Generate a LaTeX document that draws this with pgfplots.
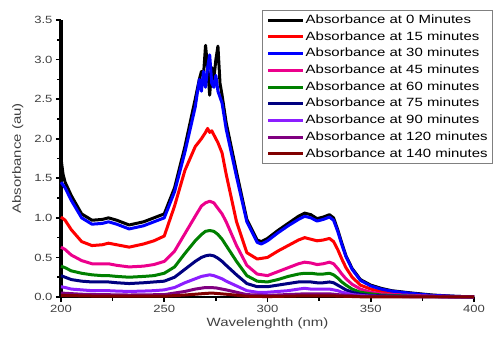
\documentclass[border=0pt]{standalone}
\usepackage{pgfplots}
\pgfplotsset{compat=1.18}
\usepackage{fontspec}
\setmainfont{Liberation Sans}[FakeStretch=1.25]
\definecolor{cNavy}{RGB}{0,0,128}
\definecolor{cGreen}{RGB}{0,128,0}
\definecolor{cViolet}{RGB}{140,30,255}
\definecolor{cPurple}{RGB}{128,0,128}
\definecolor{cMaroon}{RGB}{128,0,0}
\definecolor{tickgray}{RGB}{64,64,64}
\begin{document}
\begin{tikzpicture}
\useasboundingbox (-61bp,-42bp) rectangle (440bp,297bp);
\begin{axis}[
  at={(0,0)}, anchor=south west,
  scale only axis, width=413bp, height=277bp,
  xmin=200, xmax=400, ymin=0, ymax=3.5,
  axis lines*=left,
  axis line style={black},
  y axis line style={line width=3.2bp},
  x axis line style={line width=1.8bp},
  xtick={200,250,300,350,400},
  ytick={0,0.5,1,1.5,2,2.5,3,3.5},
  minor x tick num=1, minor y tick num=1,
  tick align=outside,
  major tick length=5bp, minor tick length=3.5bp,
  every tick/.style={black, line width=1.6bp},
  yticklabel style={/pgf/number format/.cd, fixed, fixed zerofill, precision=1},
  /pgf/number format/assume math mode=true,
  ticklabel style={font=\fontsize{10.5}{12}\selectfont, text=tickgray},
  xlabel={Wavelenghth (nm)}, ylabel={Absorbance (au)},
  label style={font=\fontsize{12}{14}\selectfont, text=tickgray},
  xlabel style={yshift=2bp},
  ylabel style={yshift=4bp},
  clip=false,
  legend style={at={(0.487,1.036)}, anchor=north west, draw=gray, line width=0.8bp,
    fill=white, font=\fontsize{12}{14}\selectfont, row sep=3.1bp,
    inner xsep=4bp, inner ysep=3bp,
    nodes={inner sep=1.2bp, text height=8.8bp, text depth=2.4bp}},
  legend cell align=left,
  legend image code/.code={\draw[#1, line width=3bp] (0bp,0bp) -- (35bp,0bp);},
  every axis plot/.append style={line width=3bp, line join=round},
]
% 0 min (black)
\addplot[black] coordinates {
(200,1.75)(201,1.55)(202,1.45)(205,1.28)(210,1.05)(215,0.97)(220,0.98)(223,1.00)(227,0.97)(233,0.91)(240,0.95)(245,1.00)(250,1.05)(255,1.38)(260,1.90)(265,2.50)(267,2.75)(268,2.85)(269,2.80)(270,3.18)(271,2.90)(272,2.55)(273,2.90)(274,2.75)(275,3.00)(276,3.17)(277,2.70)(278,2.55)(280,2.20)(285,1.58)(290,0.98)(295,0.72)(297,0.70)(300,0.74)(305,0.84)(310,0.93)(315,1.02)(318,1.06)(321,1.04)(324,0.99)(327,1.01)(330,1.04)(332,1.00)(334,0.85)(336,0.68)(338,0.52)(341,0.36)(345,0.22)(350,0.15)(355,0.11)(360,0.08)(370,0.05)(380,0.025)(390,0.01)(400,0.0)};
\addlegendentry{Absorbance at 0 Minutes}
% 15 min (red)
\addplot[red] coordinates {
(200,1.01)(202,0.97)(205,0.85)(210,0.70)(215,0.65)(220,0.66)(223,0.68)(227,0.66)(233,0.63)(240,0.67)(245,0.71)(250,0.77)(255,1.15)(260,1.60)(265,1.90)(268,2.00)(270,2.08)(271,2.13)(272,2.08)(273,2.10)(274,2.05)(276,1.95)(278,1.82)(280,1.55)(285,0.95)(290,0.56)(295,0.48)(300,0.50)(305,0.58)(310,0.65)(315,0.72)(318,0.75)(321,0.73)(324,0.71)(327,0.72)(330,0.74)(332,0.70)(334,0.60)(336,0.48)(338,0.37)(341,0.25)(345,0.15)(350,0.10)(355,0.07)(360,0.05)(370,0.03)(380,0.015)(390,0.005)(400,0.0)};
\addlegendentry{Absorbance at 15 minutes}
% 30 min (blue)
\addplot[blue] coordinates {
(200,1.45)(202,1.38)(205,1.22)(210,1.00)(215,0.92)(220,0.93)(223,0.95)(227,0.92)(233,0.86)(240,0.90)(245,0.95)(250,1.00)(255,1.33)(260,1.83)(265,2.40)(267,2.75)(268,2.60)(269,2.85)(270,2.65)(271,2.90)(272,3.06)(273,2.70)(274,2.65)(275,2.80)(276,2.60)(278,2.45)(280,2.12)(285,1.52)(290,0.95)(295,0.69)(297,0.67)(300,0.71)(305,0.81)(310,0.90)(315,0.98)(318,1.02)(321,1.00)(324,0.96)(327,0.98)(330,1.01)(332,0.97)(334,0.83)(336,0.66)(338,0.51)(341,0.35)(345,0.21)(350,0.14)(355,0.10)(360,0.075)(370,0.045)(380,0.02)(390,0.01)(400,0.0)};
\addlegendentry{Absorbance at 30 minutes}
% 45 min (magenta)
\addplot[magenta] coordinates {
(200,0.63)(202,0.60)(205,0.53)(210,0.46)(215,0.42)(220,0.42)(223,0.42)(227,0.40)(233,0.38)(240,0.39)(245,0.41)(250,0.45)(255,0.58)(260,0.80)(265,1.02)(268,1.15)(270,1.19)(272,1.21)(274,1.19)(276,1.12)(278,1.05)(280,0.95)(285,0.65)(290,0.40)(295,0.29)(300,0.27)(305,0.32)(310,0.37)(315,0.42)(318,0.44)(321,0.43)(324,0.41)(327,0.42)(330,0.44)(332,0.42)(334,0.36)(336,0.29)(338,0.23)(341,0.16)(345,0.10)(350,0.06)(355,0.04)(360,0.03)(370,0.02)(380,0.01)(400,0.0)};
\addlegendentry{Absorbance at 45 minutes}
% 60 min (green)
\addplot[cGreen] coordinates {
(200,0.39)(202,0.37)(205,0.33)(210,0.30)(215,0.28)(220,0.27)(223,0.27)(227,0.26)(233,0.25)(240,0.26)(245,0.27)(250,0.30)(255,0.38)(260,0.55)(265,0.71)(268,0.79)(270,0.83)(272,0.84)(274,0.83)(276,0.79)(278,0.73)(280,0.65)(285,0.45)(290,0.27)(295,0.20)(300,0.19)(305,0.22)(310,0.26)(315,0.29)(318,0.30)(321,0.30)(324,0.29)(327,0.29)(330,0.30)(332,0.28)(334,0.24)(336,0.19)(338,0.15)(341,0.10)(345,0.06)(350,0.04)(355,0.025)(360,0.02)(370,0.01)(400,0.0)};
\addlegendentry{Absorbance at 60 minutes}
% 75 min (navy)
\addplot[cNavy] coordinates {
(200,0.27)(202,0.25)(205,0.22)(210,0.20)(215,0.19)(220,0.19)(223,0.19)(227,0.18)(233,0.17)(240,0.18)(245,0.19)(250,0.20)(255,0.25)(260,0.35)(265,0.45)(268,0.50)(270,0.52)(272,0.53)(274,0.52)(276,0.49)(278,0.45)(280,0.40)(285,0.28)(290,0.17)(295,0.13)(300,0.13)(305,0.15)(310,0.17)(315,0.19)(318,0.19)(321,0.19)(324,0.18)(327,0.18)(330,0.19)(332,0.18)(334,0.15)(336,0.12)(338,0.09)(341,0.06)(345,0.035)(350,0.02)(360,0.01)(400,0.0)};
\addlegendentry{Absorbance at 75 minutes}
% 90 min (violet)
\addplot[cViolet] coordinates {
(200,0.13)(202,0.12)(205,0.10)(210,0.09)(215,0.08)(220,0.08)(223,0.08)(227,0.075)(233,0.07)(240,0.075)(245,0.08)(250,0.09)(255,0.12)(260,0.18)(265,0.23)(268,0.26)(270,0.27)(272,0.28)(274,0.27)(276,0.25)(278,0.23)(280,0.20)(285,0.14)(290,0.08)(295,0.06)(300,0.06)(305,0.07)(310,0.08)(315,0.10)(318,0.11)(321,0.10)(324,0.10)(327,0.10)(330,0.10)(332,0.09)(334,0.08)(336,0.06)(338,0.05)(341,0.03)(345,0.02)(350,0.01)(400,0.0)};
\addlegendentry{Absorbance at 90 minutes}
% 120 min (purple)
\addplot[cPurple] coordinates {
(200,0.05)(210,0.035)(220,0.03)(233,0.025)(250,0.03)(260,0.07)(265,0.10)(270,0.12)(272,0.12)(275,0.115)(280,0.09)(285,0.06)(290,0.03)(300,0.02)(318,0.04)(330,0.04)(336,0.025)(345,0.01)(400,0.0)};
\addlegendentry{Absorbance at 120 minutes}
% 140 min (maroon)
\addplot[cMaroon] coordinates {
(200,0.02)(220,0.01)(250,0.01)(260,0.025)(270,0.045)(273,0.05)(280,0.035)(290,0.01)(300,0.005)(318,0.015)(330,0.015)(345,0.003)(400,0.0)};
\addlegendentry{Absorbance at 140 minutes}
\end{axis}
\end{tikzpicture}
\end{document}
